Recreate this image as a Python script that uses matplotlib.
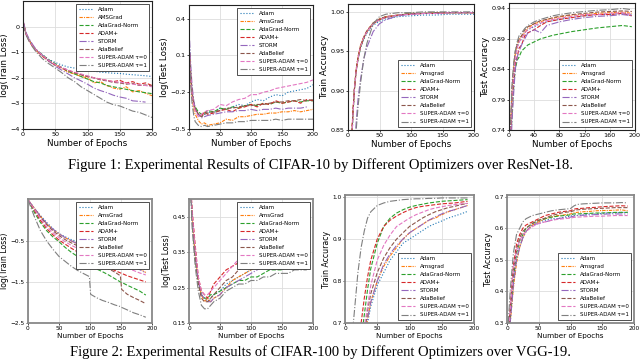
import matplotlib
matplotlib.use("Agg")
import matplotlib.pyplot as plt
import numpy as np

nan = np.nan

names = ["Adam", "AmsGrad", "AdaGrad-Norm", "ADAM+", "STORM", "AdaBelief",
         "SUPER-ADAM τ=0", "SUPER-ADAM τ=1"]
# spelling of the AMSGrad entry differs between panels
amsgrad_names = ["AMSGrad", "AmsGrad", "Amsgrad", "Amsgrad",
                 "AmsGrad", "AmsGrad", "Amsgrad", "Amsgrad"]

# ---------- CIFAR-10 / ResNet-18 ----------
c10_loss_ep = [0, 5, 10, 15, 20, 30, 40, 50, 60, 70, 80, 90, 100, 110, 120,
               130, 140, 150, 160, 170, 180, 190, 200]
c10_train_loss = [
    [0.2, -0.3, -0.55, -0.75, -0.9, -1.1, -1.28, -1.4, -1.5, -1.58, -1.62, -1.68, -1.72, -1.74, -1.78, -1.8, -1.82, -1.83, -1.86, -1.88, -1.9, -1.92, -1.95],
    [0.2, -0.3, -0.55, -0.75, -0.92, -1.15, -1.35, -1.5, -1.62, -1.78, -1.85, -1.95, -2.0, -2.2, -2.15, -2.3, -2.4, -2.45, -2.35, -2.55, -2.5, -2.6, -2.7],
    [0.2, -0.3, -0.55, -0.75, -0.9, -1.1, -1.3, -1.45, -1.6, -1.75, -1.85, -1.95, -2.05, -2.15, -2.2, -2.3, -2.35, -2.4, -2.45, -2.5, -2.55, -2.58, -2.62],
    [0.2, -0.32, -0.58, -0.78, -0.93, -1.15, -1.35, -1.5, -1.62, -1.72, -1.8, -1.88, -1.95, -2.0, -2.05, -2.1, -2.15, -2.1, -2.2, -2.15, -2.25, -2.2, -2.3],
    [0.25, -0.25, -0.5, -0.7, -0.88, -1.12, -1.35, -1.55, -1.7, -1.85, -2.0, -2.12, -2.25, -2.4, -2.5, -2.58, -2.68, -2.75, -2.8, -2.9, -2.92, -2.95, nan],
    [0.2, -0.3, -0.55, -0.75, -0.9, -1.12, -1.32, -1.48, -1.6, -1.7, -1.8, -1.88, -1.95, -2.0, -2.08, -2.12, -2.18, -2.2, -2.25, -2.22, -2.3, -2.28, -2.32],
    [0.2, -0.3, -0.55, -0.75, -0.9, -1.12, -1.32, -1.48, -1.6, -1.7, -1.78, -1.85, -1.92, -2.0, -2.05, -2.1, -2.15, -2.18, -2.2, -2.25, -2.28, -2.3, -2.35],
    [0.1, -0.35, -0.6, -0.8, -0.98, -1.25, -1.45, -1.62, -1.8, -2.0, -2.15, -2.35, -2.5, -2.65, -2.8, -2.95, -3.05, -3.1, -3.2, -3.3, -3.35, -3.45, -3.55],
]

c10_test_ep = [1, 3, 5, 8, 10, 15, 20, 25, 30, 40, 50, 60, 70, 80, 90, 100,
               110, 120, 130, 140, 150, 160, 170, 180, 190, 200]
c10_test_loss = [
    [0.15, -0.05, -0.2, -0.3, -0.33, -0.38, -0.4, -0.38, -0.36, -0.37, -0.33, -0.34, -0.32, -0.3, -0.31, -0.28, -0.26, -0.27, -0.24, -0.22, -0.23, -0.2, -0.19, -0.18, -0.17, -0.14],
    [0.1, -0.1, -0.25, -0.35, -0.38, -0.43, -0.46, -0.45, -0.47, -0.46, -0.45, -0.42, -0.43, -0.4, -0.4, -0.39, -0.38, -0.38, -0.37, -0.37, -0.36, -0.36, -0.35, -0.36, -0.35, -0.34],
    [0.1, -0.08, -0.22, -0.3, -0.32, -0.36, -0.38, -0.37, -0.35, -0.36, -0.33, -0.34, -0.32, -0.33, -0.31, -0.3, -0.31, -0.29, -0.3, -0.28, -0.29, -0.28, -0.27, -0.28, -0.27, -0.27],
    [0.05, -0.1, -0.22, -0.3, -0.34, -0.38, -0.4, -0.36, -0.38, -0.37, -0.35, -0.34, -0.36, -0.33, -0.32, -0.3, -0.32, -0.29, -0.3, -0.27, -0.29, -0.28, -0.27, -0.29, -0.26, -0.27],
    [0.22, 0.0, -0.15, -0.28, -0.33, -0.38, -0.41, -0.4, -0.39, -0.38, -0.37, -0.36, -0.36, -0.35, -0.35, -0.34, -0.35, -0.34, -0.34, -0.33, -0.34, -0.33, -0.33, -0.33, -0.32, nan],
    [0.12, -0.05, -0.2, -0.3, -0.33, -0.38, -0.4, -0.38, -0.37, -0.36, -0.35, -0.33, -0.33, -0.32, -0.31, -0.31, -0.3, -0.3, -0.29, -0.28, -0.28, -0.27, -0.27, -0.26, -0.27, -0.26],
    [0.1, -0.08, -0.22, -0.32, -0.35, -0.4, -0.38, -0.36, -0.35, -0.34, -0.3, -0.31, -0.28, -0.26, -0.25, -0.22, -0.22, -0.2, -0.19, -0.17, -0.16, -0.15, -0.14, -0.13, -0.12, -0.1],
    [0.05, -0.15, -0.3, -0.4, -0.44, -0.47, -0.48, -0.47, -0.48, -0.47, -0.46, -0.45, -0.45, -0.44, -0.44, -0.43, -0.43, -0.43, -0.43, -0.42, -0.43, -0.42, -0.42, -0.42, -0.42, -0.42],
]

c10_tacc_ep = [1, 5, 8, 10, 13, 16, 20, 25, 30, 40, 50, 60, 80, 100, 120, 140, 160, 180, 200]
c10_train_acc = [
    [0.65, 0.82, 0.87, 0.9, 0.925, 0.94, 0.955, 0.965, 0.973, 0.983, 0.988, 0.991, 0.994, 0.995, 0.996, 0.996, 0.997, 0.997, 0.997],
    [0.66, 0.83, 0.875, 0.9, 0.928, 0.943, 0.958, 0.968, 0.976, 0.986, 0.991, 0.994, 0.996, 0.998, 0.998, 0.999, 0.999, 0.999, 0.999],
    [0.65, 0.82, 0.87, 0.9, 0.925, 0.94, 0.955, 0.966, 0.975, 0.985, 0.99, 0.993, 0.996, 0.998, 0.998, 0.999, 0.999, 0.999, 0.999],
    [0.66, 0.83, 0.875, 0.9, 0.926, 0.942, 0.956, 0.967, 0.975, 0.985, 0.99, 0.993, 0.996, 0.997, 0.998, 0.998, 0.999, 0.999, 0.999],
    [0.55, 0.7, 0.78, 0.82, 0.86, 0.89, 0.915, 0.94, 0.955, 0.975, 0.985, 0.99, 0.995, 0.997, 0.998, 0.998, 0.999, 0.999, 0.999],
    [0.66, 0.83, 0.875, 0.9, 0.927, 0.943, 0.957, 0.968, 0.976, 0.986, 0.991, 0.994, 0.996, 0.998, 0.998, 0.999, 0.999, 0.999, 0.999],
    [0.65, 0.82, 0.87, 0.9, 0.925, 0.941, 0.956, 0.967, 0.975, 0.985, 0.99, 0.993, 0.996, 0.997, 0.998, 0.998, 0.999, 0.999, 0.999],
    [0.5, 0.68, 0.77, 0.81, 0.85, 0.88, 0.91, 0.94, 0.96, 0.985, 0.994, 0.997, 0.999, 0.999, 1.0, 1.0, 1.0, 1.0, 1.0],
]

c10_vacc_ep = [2, 5, 8, 10, 13, 16, 20, 25, 30, 40, 50, 60, 70, 80, 100, 120, 140, 160, 180, 195]
c10_test_acc = [
    [0.72, 0.8, 0.84, 0.86, 0.875, 0.885, 0.89, 0.9, 0.905, 0.91, 0.915, 0.918, 0.92, 0.922, 0.925, 0.928, 0.93, 0.93, 0.932, 0.93],
    [0.73, 0.81, 0.85, 0.865, 0.88, 0.888, 0.895, 0.9, 0.908, 0.915, 0.918, 0.922, 0.924, 0.926, 0.929, 0.93, 0.932, 0.933, 0.934, 0.932],
    [0.7, 0.77, 0.82, 0.84, 0.855, 0.86, 0.87, 0.875, 0.88, 0.885, 0.89, 0.893, 0.896, 0.898, 0.902, 0.905, 0.908, 0.91, 0.912, 0.91],
    [0.71, 0.79, 0.83, 0.85, 0.86, 0.875, 0.88, 0.895, 0.9, 0.905, 0.912, 0.918, 0.92, 0.922, 0.925, 0.928, 0.93, 0.93, 0.932, 0.928],
    [0.68, 0.76, 0.81, 0.84, 0.86, 0.87, 0.88, 0.89, 0.9, 0.905, 0.9, 0.912, 0.915, 0.918, 0.922, 0.925, 0.927, 0.928, 0.93, 0.928],
    [0.73, 0.81, 0.85, 0.87, 0.88, 0.89, 0.895, 0.905, 0.91, 0.915, 0.92, 0.922, 0.925, 0.927, 0.93, 0.932, 0.934, 0.935, 0.936, 0.935],
    [0.72, 0.8, 0.84, 0.86, 0.875, 0.885, 0.89, 0.9, 0.905, 0.912, 0.916, 0.92, 0.922, 0.924, 0.927, 0.93, 0.93, 0.932, 0.933, 0.93],
    [0.73, 0.82, 0.855, 0.87, 0.885, 0.895, 0.9, 0.907, 0.912, 0.918, 0.922, 0.925, 0.928, 0.93, 0.933, 0.935, 0.937, 0.938, 0.94, 0.938],
]

# ---------- CIFAR-100 / VGG-19 ----------
c100_loss_ep = [0, 10, 20, 30, 40, 50, 60, 70, 80, 90, 99, 101, 110, 120, 130,
                140, 149, 151, 160, 170, 180, 190]
c100_train_loss = [
    [0.5, 0.3, 0.12, -0.05, -0.2, -0.32, -0.4, -0.47, -0.52, -0.57, -0.6, -0.61, -0.68, -0.74, -0.8, -0.86, -0.92, -0.93, -1.0, -1.07, -1.14, -1.2],
    [0.5, 0.3, 0.1, -0.08, -0.22, -0.33, -0.42, -0.5, -0.57, -0.63, -0.68, -0.69, -0.75, -0.8, -0.86, -0.92, -0.97, -0.98, -1.05, -1.12, -1.18, -1.27],
    [0.5, 0.2, -0.05, -0.25, -0.4, -0.52, -0.66, -0.78, -0.88, -0.98, -1.08, -1.09, -1.18, -1.25, -1.33, -1.42, -1.5, -1.51, -1.58, -1.65, -1.72, -1.82],
    [0.5, 0.25, 0.0, -0.2, -0.35, -0.48, -0.58, -0.68, -0.77, -0.85, -0.92, -0.93, -1.0, -1.08, -1.15, -1.22, -1.28, -1.29, -1.35, -1.4, -1.45, -1.5],
    [0.5, 0.3, 0.1, -0.07, -0.21, -0.33, -0.42, -0.5, -0.57, -0.63, -0.68, -0.69, -0.75, -0.81, -0.87, -0.93, -0.98, -0.99, -1.06, -1.13, -1.2, -1.28],
    [0.5, 0.28, 0.08, -0.1, -0.25, -0.37, -0.47, -0.55, -0.62, -0.7, -0.78, -0.92, -1.02, -1.1, -1.18, -1.26, -1.35, -1.68, -1.8, -1.88, -1.95, -2.03],
    [0.5, 0.28, 0.05, -0.15, -0.3, -0.42, -0.52, -0.61, -0.68, -0.75, -0.82, -0.83, -0.89, -0.95, -1.0, -1.05, -1.1, -1.11, -1.17, -1.22, -1.28, -1.33],
    [0.5, 0.1, -0.25, -0.5, -0.7, -0.88, -1.0, -1.12, -1.22, -1.3, -1.37, -1.8, -1.88, -1.95, -2.0, -2.06, -2.1, -2.12, -2.18, -2.25, -2.3, -2.36],
]

c100_test_ep = [1, 5, 10, 15, 20, 25, 30, 35, 40, 50, 60, 70, 80, 90, 100,
                110, 120, 130, 140, 150, 160, 170, 180, 190]
c100_test_loss = [
    [0.6, 0.45, 0.35, 0.27, 0.23, 0.22, 0.21, 0.22, 0.23, 0.24, 0.26, 0.27, 0.28, 0.29, 0.3, 0.31, 0.32, 0.33, 0.34, 0.35, 0.36, 0.37, 0.37, 0.38],
    [0.6, 0.45, 0.34, 0.27, 0.23, 0.21, 0.22, 0.21, 0.22, 0.23, 0.25, 0.27, 0.28, 0.29, 0.3, 0.31, 0.32, 0.33, 0.34, 0.35, 0.36, 0.36, 0.37, 0.38],
    [0.6, 0.44, 0.33, 0.26, 0.23, 0.22, 0.22, 0.23, 0.23, 0.24, 0.25, 0.26, 0.27, 0.27, 0.28, 0.28, 0.29, 0.3, 0.3, 0.3, 0.31, 0.31, 0.32, 0.32],
    [0.6, 0.47, 0.37, 0.28, 0.24, 0.23, 0.22, 0.24, 0.26, 0.28, 0.3, 0.31, 0.32, 0.33, 0.33, 0.35, 0.36, 0.37, 0.38, 0.39, 0.39, 0.4, 0.4, 0.41],
    [0.6, 0.45, 0.34, 0.27, 0.23, 0.22, 0.21, 0.21, 0.22, 0.23, 0.25, 0.26, 0.27, 0.28, 0.29, 0.3, 0.31, 0.32, 0.33, 0.33, 0.34, 0.34, 0.35, 0.35],
    [0.6, 0.45, 0.34, 0.26, 0.22, 0.21, 0.21, 0.22, 0.23, 0.25, 0.27, 0.28, 0.3, 0.31, 0.32, 0.33, 0.34, 0.35, 0.35, 0.36, 0.36, 0.36, 0.37, 0.37],
    [0.6, 0.46, 0.36, 0.28, 0.24, 0.23, 0.23, 0.24, 0.25, 0.27, 0.29, 0.31, 0.33, 0.35, 0.36, 0.38, 0.39, 0.4, 0.41, 0.42, 0.43, 0.44, 0.44, 0.45],
    [0.6, 0.42, 0.31, 0.24, 0.2, 0.19, 0.19, 0.2, 0.21, 0.22, 0.24, 0.25, 0.26, 0.26, 0.27, 0.27, 0.28, 0.28, 0.29, 0.29, 0.29, 0.3, 0.3, 0.3],
]

c100_tacc_ep = [0, 10, 20, 25, 30, 35, 40, 50, 60, 70, 80, 90, 100, 110, 120,
                130, 140, 150, 160, 170, 180, 190]
c100_train_acc = [
    [0.2, 0.35, 0.5, 0.57, 0.64, 0.7, 0.74, 0.79, 0.82, 0.85, 0.87, 0.89, 0.9, 0.91, 0.92, 0.93, 0.937, 0.943, 0.95, 0.955, 0.96, 0.966],
    [0.2, 0.36, 0.51, 0.58, 0.65, 0.71, 0.75, 0.8, 0.835, 0.86, 0.88, 0.9, 0.915, 0.925, 0.935, 0.945, 0.95, 0.958, 0.965, 0.97, 0.975, 0.98],
    [0.25, 0.45, 0.6, 0.66, 0.72, 0.78, 0.83, 0.89, 0.93, 0.95, 0.962, 0.97, 0.976, 0.98, 0.983, 0.986, 0.988, 0.99, 0.991, 0.992, 0.993, 0.994],
    [0.28, 0.48, 0.64, 0.7, 0.76, 0.81, 0.85, 0.9, 0.93, 0.945, 0.955, 0.963, 0.97, 0.975, 0.978, 0.98, 0.982, 0.984, 0.985, 0.986, 0.988, 0.99],
    [0.2, 0.36, 0.51, 0.58, 0.65, 0.71, 0.75, 0.8, 0.84, 0.865, 0.885, 0.9, 0.915, 0.925, 0.935, 0.945, 0.953, 0.96, 0.966, 0.97, 0.975, 0.98],
    [0.2, 0.37, 0.53, 0.6, 0.67, 0.73, 0.77, 0.82, 0.855, 0.88, 0.9, 0.915, 0.93, 0.94, 0.95, 0.958, 0.965, 0.97, 0.975, 0.978, 0.982, 0.985],
    [0.22, 0.4, 0.56, 0.63, 0.69, 0.74, 0.79, 0.85, 0.885, 0.91, 0.93, 0.94, 0.95, 0.958, 0.964, 0.97, 0.974, 0.977, 0.98, 0.982, 0.984, 0.985],
    [0.35, 0.65, 0.82, 0.88, 0.92, 0.95, 0.965, 0.98, 0.986, 0.99, 0.992, 0.994, 0.995, 0.996, 0.996, 0.997, 0.997, 0.998, 0.998, 0.998, 0.998, 0.998],
]

c100_vacc_ep = [2, 5, 10, 15, 20, 25, 30, 40, 50, 60, 70, 80, 90, 100, 105,
                110, 120, 130, 140, 150, 160, 170, 180, 190]
c100_test_acc = [
    [0.22, 0.3, 0.42, 0.5, 0.54, 0.57, 0.59, 0.61, 0.62, 0.625, 0.63, 0.63, 0.635, 0.638, 0.64, 0.64, 0.642, 0.645, 0.645, 0.647, 0.648, 0.648, 0.65, 0.65],
    [0.22, 0.3, 0.41, 0.49, 0.54, 0.57, 0.59, 0.61, 0.62, 0.63, 0.635, 0.64, 0.642, 0.645, 0.648, 0.65, 0.652, 0.653, 0.655, 0.656, 0.656, 0.657, 0.658, 0.655],
    [0.24, 0.32, 0.44, 0.52, 0.56, 0.58, 0.6, 0.615, 0.625, 0.63, 0.635, 0.638, 0.64, 0.642, 0.645, 0.645, 0.646, 0.647, 0.648, 0.648, 0.649, 0.65, 0.65, 0.65],
    [0.26, 0.35, 0.48, 0.55, 0.58, 0.6, 0.61, 0.62, 0.63, 0.64, 0.645, 0.65, 0.653, 0.655, 0.66, 0.662, 0.663, 0.665, 0.666, 0.668, 0.669, 0.67, 0.671, 0.67],
    [0.22, 0.3, 0.42, 0.5, 0.54, 0.57, 0.59, 0.61, 0.615, 0.62, 0.625, 0.63, 0.633, 0.635, 0.638, 0.64, 0.641, 0.642, 0.643, 0.644, 0.645, 0.645, 0.645, 0.645],
    [0.24, 0.33, 0.46, 0.53, 0.57, 0.59, 0.6, 0.615, 0.625, 0.632, 0.64, 0.645, 0.65, 0.652, 0.655, 0.658, 0.66, 0.661, 0.662, 0.663, 0.664, 0.665, 0.665, 0.665],
    [0.25, 0.34, 0.47, 0.53, 0.56, 0.58, 0.59, 0.605, 0.615, 0.62, 0.625, 0.628, 0.63, 0.632, 0.634, 0.635, 0.636, 0.637, 0.638, 0.638, 0.639, 0.64, 0.64, 0.64],
    [0.3, 0.4, 0.52, 0.58, 0.6, 0.62, 0.63, 0.64, 0.645, 0.65, 0.655, 0.658, 0.66, 0.662, 0.67, 0.675, 0.677, 0.678, 0.679, 0.68, 0.68, 0.68, 0.681, 0.68],
]

colors = ["tab:blue", "tab:orange", "tab:green", "tab:red", "tab:purple",
          "tab:brown", "tab:pink", "tab:gray"]
styles = [":", (0, (3, 1, 1, 1)), "--", "--", "-.", "--", "--", "-."]


def panel(rect, ep, series, amsname, ylabel, ylim, yticks, xticks, loc,
          xfs, yfs, tfs, spine_color, spine_w):
    ax = fig.add_axes(rect)
    for i, ys in enumerate(series):
        lab = amsname if i == 1 else names[i]
        ax.plot(ep, ys, color=colors[i], linestyle=styles[i], lw=0.8, label=lab)
    ax.set_xlim(0, 200)
    ax.set_ylim(*ylim)
    ax.set_xticks(xticks)
    ax.set_yticks(yticks)
    ax.grid(True, color="#dddddd", lw=0.6)
    for s in ax.spines.values():
        s.set_color(spine_color)
        s.set_linewidth(spine_w)
    ax.tick_params(labelsize=tfs, length=1.5, width=0.5, pad=1)
    ax.set_xlabel("Number of Epochs", fontsize=xfs, labelpad=1)
    ax.set_ylabel(ylabel, fontsize=yfs, labelpad=1)
    leg = ax.legend(loc=loc, fontsize=4, handlelength=2.6, labelspacing=0.55,
                    borderpad=0.5, fancybox=False, framealpha=1)
    leg.get_frame().set_edgecolor("#333333")
    leg.get_frame().set_linewidth(0.6)
    return ax


def rect(l, r, t, b):
    return [l / 640, 1 - b / 363, (r - l) / 640, (b - t) / 363]


fig = plt.figure(figsize=(6.4, 3.63), dpi=100)

x200 = [0, 50, 100, 150, 200]
x40 = [0, 40, 80, 120, 160, 200]
top = dict(xfs=6.3, yfs=6.3, tfs=4.6, spine_color="#222222", spine_w=0.8)
bot = dict(xfs=5.2, yfs=5.6, tfs=4.2, spine_color="#888888", spine_w=1.3)

panel(rect(23, 152, 1, 129), c10_loss_ep, c10_train_loss, amsgrad_names[0],
      "log(Train Loss)", (-4, 1.0), [0, -1, -2, -3, -4], x200, "upper right", **top)
panel(rect(189, 313, 5, 129), c10_test_ep, c10_test_loss, amsgrad_names[1],
      "log(Test Loss)", (-0.5, 0.51), [0.4, 0.1, -0.2, -0.5], x200, "upper right", **top)
panel(rect(348, 474, 4, 130), c10_tacc_ep, c10_train_acc, amsgrad_names[2],
      "Train Accuracy", (0.85, 1.01), [0.85, 0.90, 0.95, 1.00], x200, "lower right", **top)
panel(rect(509, 635, 3, 130), c10_vacc_ep, c10_test_acc, amsgrad_names[3],
      "Test Accuracy", (0.74, 0.949), [0.74, 0.79, 0.84, 0.89, 0.94], x40, "lower right", **top)

panel(rect(28, 152, 199, 323), c100_loss_ep, c100_train_loss, amsgrad_names[4],
      "log(Train Loss)", (-2.5, 0.52), [-0.5, -1.5, -2.5], x200, "upper right", **bot)
panel(rect(189, 313, 199, 323), c100_test_ep, c100_test_loss, amsgrad_names[5],
      "log(Test Loss)", (0.15, 0.50), [0.15, 0.25, 0.35, 0.45], x200, "upper right", **bot)
panel(rect(345, 474, 195, 323), c100_tacc_ep, c100_train_acc, amsgrad_names[6],
      "Train Accuracy", (0.7, 1.005), [0.7, 0.8, 0.9, 1.0], x200, "lower right", **bot)
panel(rect(507, 634, 195, 323), c100_vacc_ep, c100_test_acc, amsgrad_names[7],
      "Test Accuracy", (0.3, 0.705), [0.3, 0.4, 0.5, 0.6, 0.7], x200, "lower right", **bot)

fig.text(0.5, 1 - 165 / 363,
         "Figure 1: Experimental Results of CIFAR-10 by Different Optimizers over ResNet-18.",
         ha="center", va="center", fontsize=10.5, family="Liberation Serif")
fig.text(0.5, 1 - 352 / 363,
         "Figure 2: Experimental Results of CIFAR-100 by Different Optimizers over VGG-19.",
         ha="center", va="center", fontsize=10.5, family="Liberation Serif")

fig.savefig("out.png", dpi=100)
